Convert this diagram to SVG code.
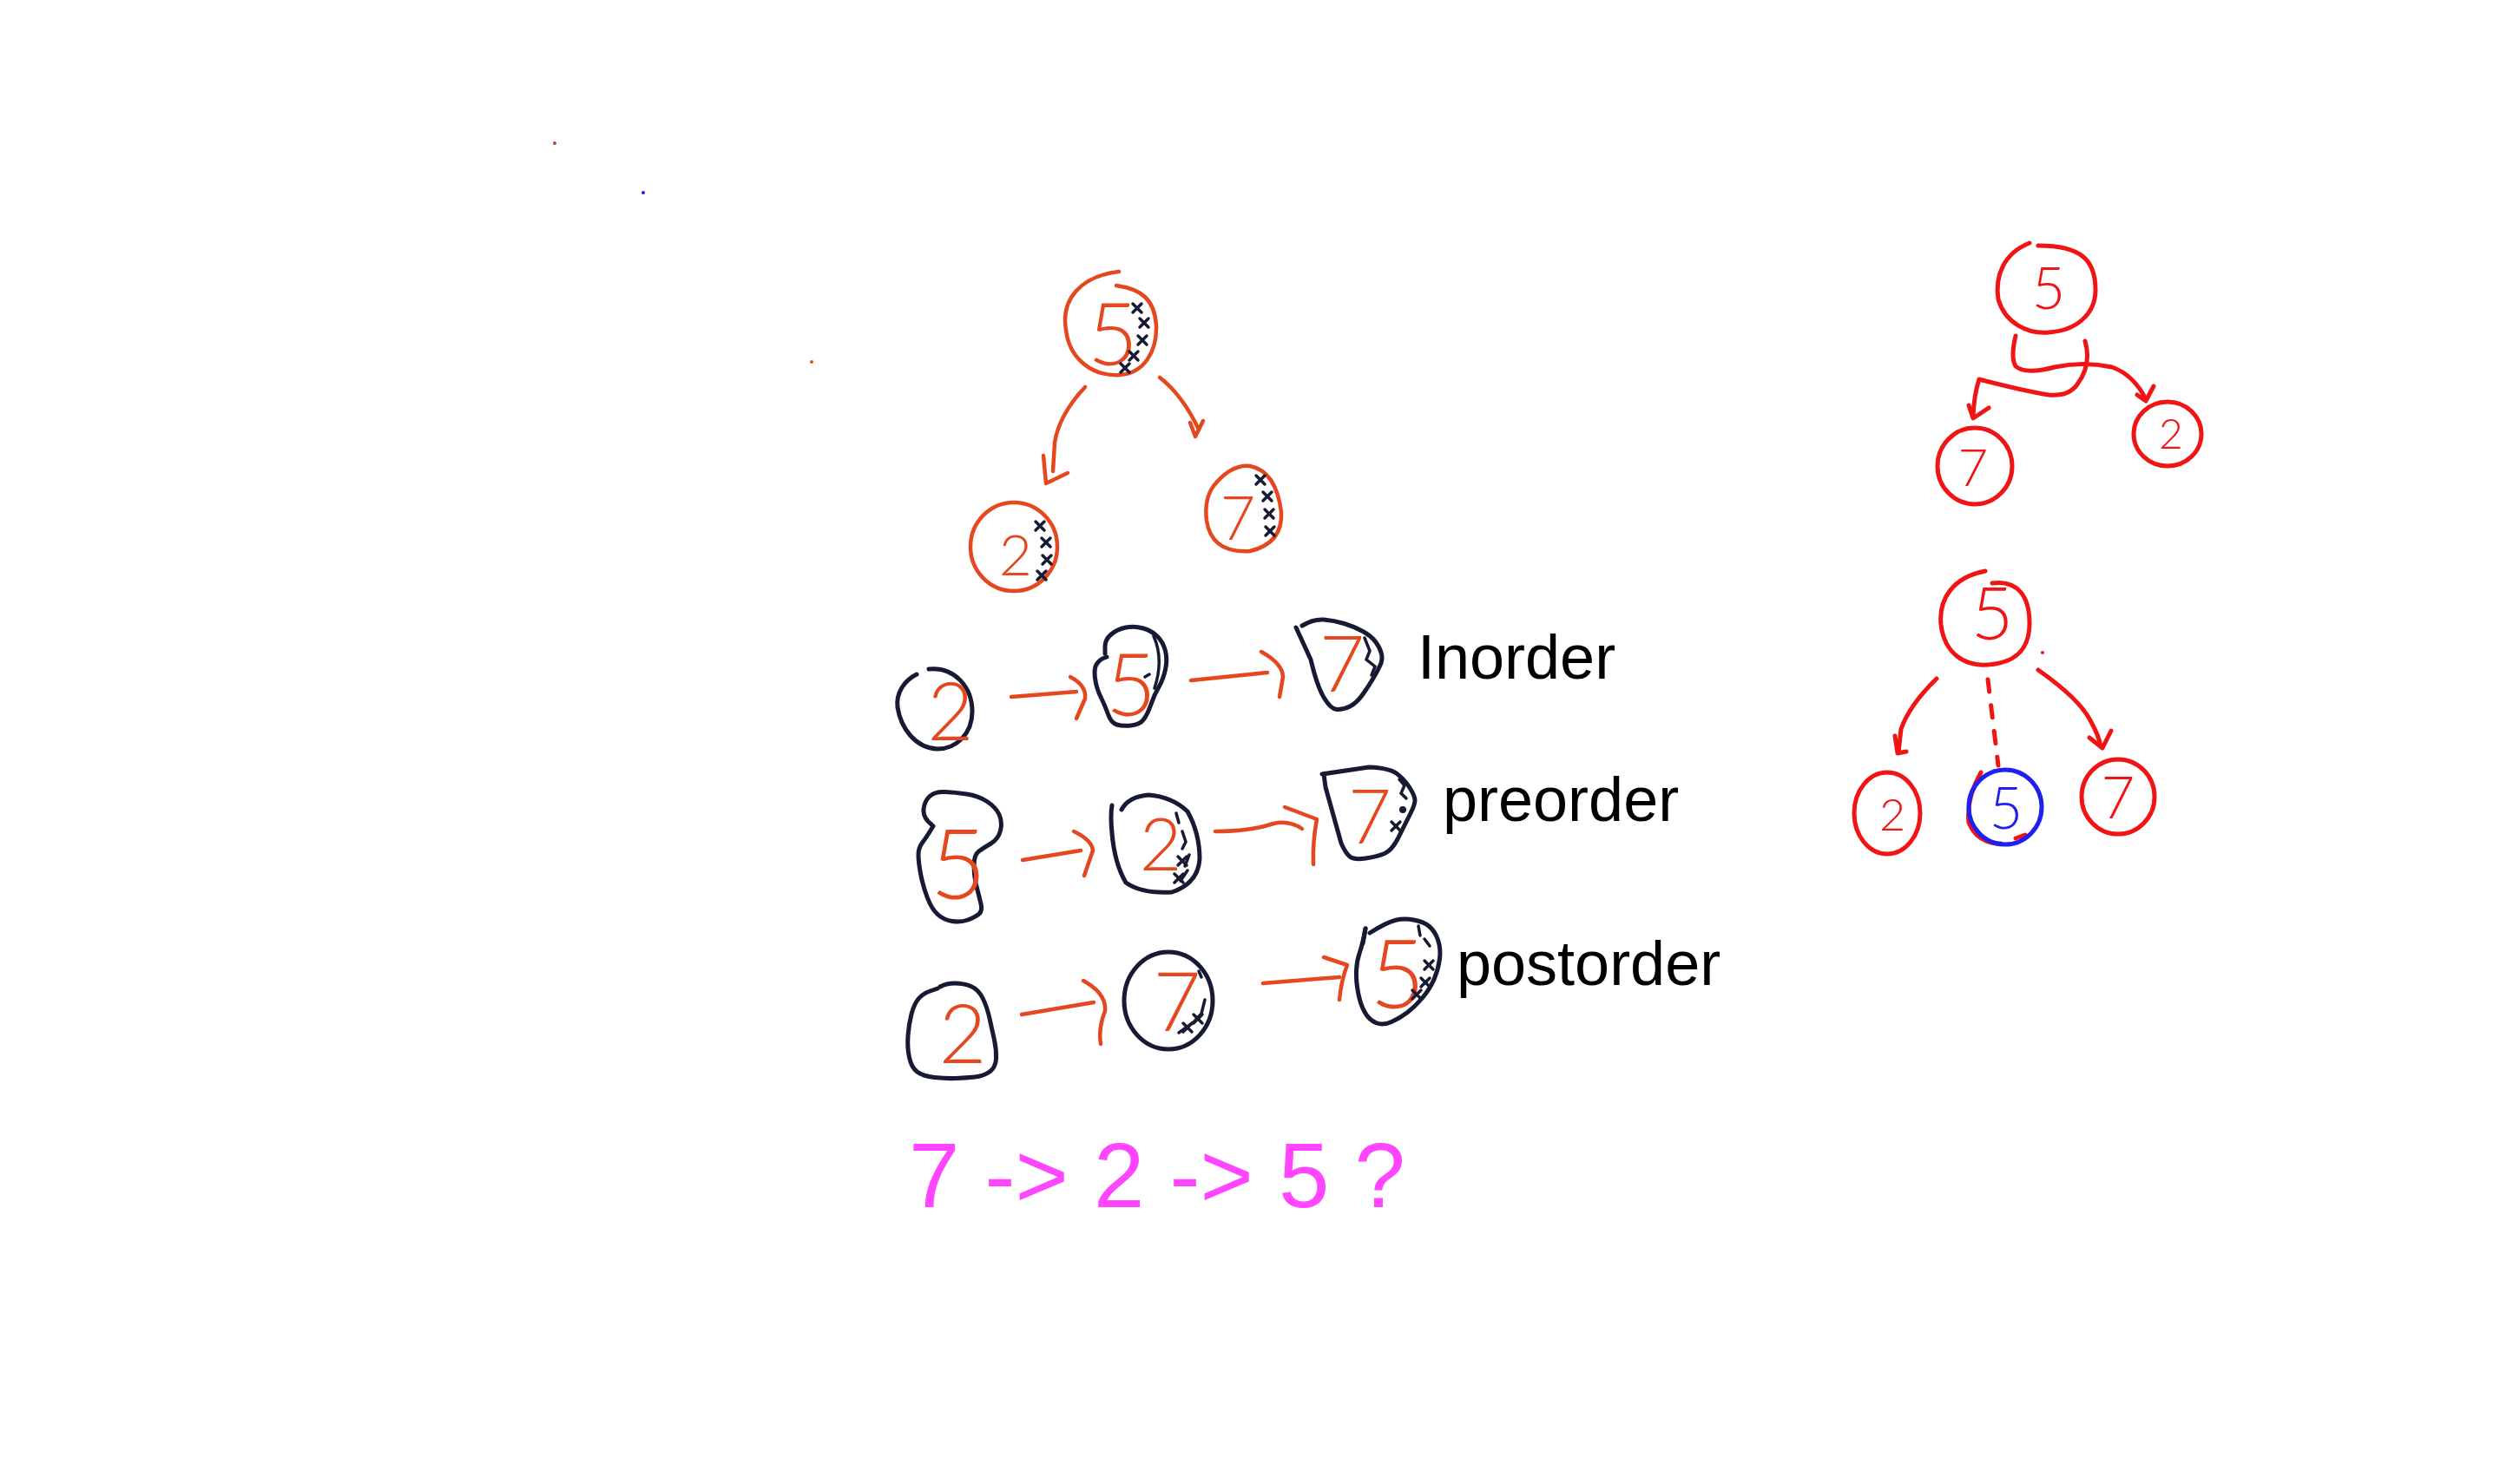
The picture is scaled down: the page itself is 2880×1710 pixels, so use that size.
<svg xmlns="http://www.w3.org/2000/svg" width="2880" height="1710" viewBox="0 0 2880 1710">
<style>
.o{fill:none;stroke:#e5471f;stroke-width:4.5;stroke-linecap:round;stroke-linejoin:round}
.k{fill:none;stroke:#171a33;stroke-width:5;stroke-linecap:round;stroke-linejoin:round}
.kh{fill:none;stroke:#171a33;stroke-width:3.5;stroke-linecap:round}
.r{fill:none;stroke:#f01414;stroke-width:5;stroke-linecap:round;stroke-linejoin:round}
.b{fill:none;stroke:#1f1ff0;stroke-width:5;stroke-linecap:round;stroke-linejoin:round}
.d{font-family:Lato,"Open Sans","Liberation Sans",sans-serif;font-weight:300;text-anchor:middle}
.do{fill:#e5471f}
.dr{fill:#f01414}
.db{fill:#1f1ff0}
.lbl{font-family:"Liberation Sans",Arial,sans-serif;fill:#000;font-size:72px}
</style>
<defs>
<path id="xm" d="M-5,-5 L5,5 M5,-5 L-5,5" class="kh"/>
</defs>
<rect width="2880" height="1710" fill="#fff"/>

<g id="stray-dots">
<circle cx="639" cy="165" r="2" fill="#d03a2a"/>
<circle cx="741" cy="222" r="2" fill="#2020e0"/>
<circle cx="935" cy="417" r="2" fill="#e5471f"/>
<circle cx="2353" cy="752" r="2" fill="#f01414"/>
</g>

<g id="connectors">
<!-- left tree -->
<path class="o" d="M1250,446 Q1220,478 1215,510 L1213,543"/>
<path class="o" d="M1202,525 L1205,557 L1230,545"/>
<path class="o" d="M1336,435 Q1362,455 1381,495"/>
<path class="o" d="M1371,487 L1377,503 L1386,485"/>
<!-- inorder -->
<path class="o" d="M1165,803 L1240,797"/>
<path class="o" d="M1233,780 Q1252,790 1250,805 L1240,828"/>
<path class="o" d="M1372,784 L1460,775"/>
<path class="o" d="M1453,751 Q1478,765 1478,780 L1474,803"/>
<!-- preorder -->
<path class="o" d="M1178,991 L1245,980"/>
<path class="o" d="M1237,958 Q1258,968 1259,980 L1249,1009"/>
<path class="o" d="M1400,958 Q1440,958 1467,949 Q1485,945 1500,955"/>
<path class="o" d="M1480,930 L1517,944 Q1512,970 1513,996"/>
<!-- postorder -->
<path class="o" d="M1177,1169 L1260,1155"/>
<path class="o" d="M1248,1130 Q1275,1145 1273,1165 Q1265,1185 1268,1203"/>
<path class="o" d="M1455,1133 L1543,1126"/>
<path class="o" d="M1525,1103 L1552,1112 Q1545,1130 1543,1152"/>
<!-- right top tree -->
<path class="r" d="M2322,387 Q2316,412 2322,422 Q2333,432 2367,423 Q2400,416 2433,423 Q2458,432 2472,460"/>
<path class="r" d="M2462,455 L2472,462 L2481,445"/>
<path class="r" d="M2402,393 Q2410,420 2393,443 Q2383,457 2360,455 Q2330,450 2280,437 Q2274,455 2273,480"/>
<path class="r" d="M2268,467 L2273,482 L2291,470"/>
<!-- right bottom tree -->
<path class="r" d="M2231,782 Q2200,812 2190,840 L2187,867"/>
<path class="r" d="M2183,848 L2186,868 L2196,866"/>
<path class="r" d="M2290,783 L2302,882" stroke-dasharray="14 16"/>
<path class="r" d="M2348,772 Q2395,805 2408,830 Q2418,848 2420,860"/>
<path class="r" d="M2407,850 L2422,862 L2432,842"/>
</g>

<!-- left tree nodes -->
<g id="lt-5">
<path class="o" d="M1289,313 C1245,318 1222,345 1228,380 C1232,415 1260,434 1290,432 C1318,430 1333,405 1332,375 C1330,345 1315,333 1286,329"/>
<text class="d do" x="1282" y="421" font-size="100">5</text>
<use href="#xm" x="1310" y="355"/><use href="#xm" x="1318" y="372"/><use href="#xm" x="1316" y="392"/><use href="#xm" x="1306" y="410"/><use href="#xm" x="1296" y="424"/>
</g>
<g id="lt-2">
<ellipse class="o" cx="1168" cy="630" rx="50" ry="51"/>
<text class="d do" x="1170" y="663" font-size="66">2</text>
<use href="#xm" x="1198" y="606"/><use href="#xm" x="1205" y="625"/><use href="#xm" x="1206" y="645"/><use href="#xm" x="1200" y="663"/>
</g>
<g id="lt-7">
<path class="o" d="M1398,560 Q1418,535 1440,537 Q1470,543 1476,590 Q1478,626 1440,635 Q1396,638 1390,600 Q1387,575 1398,560 Z"/>
<text class="d do" x="1426" y="622" font-size="70">7</text>
<use href="#xm" x="1452" y="553"/><use href="#xm" x="1460" y="572"/><use href="#xm" x="1462" y="592"/><use href="#xm" x="1463" y="612"/>
</g>

<!-- inorder row -->
<g id="in-2">
<path class="k" d="M1070,771 C1100,768 1120,792 1120,820 C1120,845 1102,863 1080,863 C1055,862 1038,840 1034,815 C1032,798 1042,784 1056,777"/>
<text class="d do" x="1095" y="853" font-size="92">2</text>
</g>
<g id="in-5">
<path class="k" d="M1273,753 L1273,745 Q1273,737 1280,731 Q1287,725 1297,723 Q1307,721 1317,724 Q1327,727 1333.5,733.5 Q1340,740 1342.5,750 Q1345,760 1342.5,771.5 Q1340,783 1335,791.5 Q1330,800 1326,811.5 Q1322,823 1317.5,829 Q1313,835 1303,836 Q1293,837 1286.5,835 Q1280,833 1276.5,823 Q1273,813 1268,803 Q1263,793 1261.5,781.5 Q1260,770 1263.5,765 Q1267,760 1271,758.5 L1275,757"/>
<text class="d do" x="1303" y="825" font-size="100">5</text>
<path class="kh" d="M1329,733 Q1341,760 1330,793 M1319,780 L1324,777"/>
</g>
<g id="in-7">
<path class="k" d="M1493,723 L1510,760 Q1517,790 1525,803.5 Q1533,817 1540,817.5 Q1547,818 1555,814 Q1563,810 1570,800 Q1577,790 1582,781.5 Q1587,773 1590,766.5 Q1593,760 1591.5,753.5 Q1590,747 1585,740 Q1580,733 1570,727.5 Q1560,722 1548.5,718.5 Q1537,715 1525,714 Q1513,713 1500,721"/>
<text class="d do" x="1546" y="797" font-size="90">7</text>
<path class="kh" d="M1572,735 L1578,750 L1574,760 L1584,768 L1580,778"/>
</g>
<text id="lbl-inorder" class="lbl" x="1633" y="782">Inorder</text>

<!-- preorder row -->
<g id="pre-5">
<path class="k" d="M1073,950 Q1063,942 1064,932.5 Q1065,923 1071,917.5 Q1077,912 1088.5,912.5 Q1100,913 1113.5,915 Q1127,917 1137,923.5 Q1147,930 1151,938.5 Q1155,947 1152.5,957 Q1150,967 1141.5,972 Q1133,977 1127.5,981 Q1122,985 1122,997.5 Q1122,1010 1125,1021.5 Q1128,1033 1130,1041.5 Q1132,1050 1127.5,1053.5 Q1123,1057 1115,1060 Q1107,1063 1097,1061.5 Q1087,1060 1080,1053.5 Q1073,1047 1068,1033.5 Q1063,1020 1060.5,1006.5 Q1058,993 1058,985 Q1058,977 1062.5,971 Q1067,965 1071,958.5 L1075,952"/>
<text class="d do" x="1104" y="1036" font-size="112">5</text>
</g>
<g id="pre-2">
<path class="k" d="M1292,933 Q1300,918 1323,916 Q1350,918 1368,935 Q1382,960 1382,990 Q1380,1018 1350,1028 Q1315,1030 1297,1017 Q1284,995 1281,960 Q1279,940 1281,928"/>
<text class="d do" x="1337" y="1003" font-size="84">2</text>
<path class="kh" d="M1355,937 L1358,948 M1362,958 L1366,970 L1362,978 M1370,985 L1365,998 M1368,1003 L1360,1015"/>
<use href="#xm" x="1362" y="992"/><use href="#xm" x="1358" y="1012"/>
</g>
<g id="pre-7">
<path class="k" d="M1523,892 L1577,884 Q1600,885 1608.5,891 Q1617,897 1623.5,907 Q1630,917 1630,922 Q1630,927 1625,937 L1610,967 Q1603,980 1595,983.5 Q1587,987 1573.5,989 Q1560,991 1555,987 Q1550,983 1545,971.5 L1527,907 L1525,892"/>
<text class="d do" x="1578" y="972" font-size="86">7</text>
<path class="kh" d="M1612,898 L1618,905 L1614,914 L1620,920"/>
<circle cx="1616" cy="933" r="4" fill="#171a33"/>
<use href="#xm" x="1608" y="952"/>
</g>
<text id="lbl-preorder" class="lbl" x="1662" y="946">preorder</text>

<!-- postorder row -->
<g id="post-2">
<path class="k" d="M1083,1137 Q1090,1133 1100,1133 Q1110,1133 1118.5,1136.5 Q1127,1140 1132,1150 Q1137,1160 1140,1173.5 Q1143,1187 1145.5,1198.5 Q1148,1210 1147.5,1220 Q1147,1230 1140,1235 Q1133,1240 1123,1241 Q1113,1242 1101.5,1242.5 Q1090,1243 1076.5,1241.5 Q1063,1240 1056.5,1235 Q1050,1230 1047.5,1218.5 Q1045,1207 1046,1193.5 Q1047,1180 1050,1168.5 Q1053,1157 1058,1151 Q1063,1145 1071.5,1142 L1080,1139"/>
<text class="d do" x="1109" y="1225" font-size="95">2</text>
</g>
<g id="post-7">
<ellipse class="k" cx="1346" cy="1153" rx="51" ry="56"/>
<text class="d do" x="1356" y="1188" font-size="95">7</text>
<path class="kh" d="M1381,1119 L1384,1126 M1388,1152 L1384,1168 L1375,1178 L1358,1190"/>
<use href="#xm" x="1368" y="1184"/><use href="#xm" x="1380" y="1174"/>
</g>
<g id="post-5">
<path class="k" d="M1578,1075 Q1597,1063 1607,1060.5 Q1617,1058 1628.5,1060 Q1640,1062 1646.5,1067.5 Q1653,1073 1656.5,1083 Q1660,1093 1658.5,1105 Q1657,1117 1652,1128.5 Q1647,1140 1638.5,1150 Q1630,1160 1621.5,1166.5 Q1613,1173 1603,1177.5 Q1593,1182 1585,1178.5 Q1577,1175 1572,1166 Q1567,1157 1564.5,1143.5 Q1562,1130 1562.5,1118.5 Q1563,1107 1566.5,1097 Q1570,1087 1573,1070"/>
<path class="k" d="M1573,1070 L1570,1087"/>
<text class="d do" x="1610" y="1162" font-size="110">5</text>
<path class="kh" d="M1634,1067 L1636,1078 M1641,1082 L1647,1090"/>
<use href="#xm" x="1646" y="1112"/><use href="#xm" x="1642" y="1132"/><use href="#xm" x="1632" y="1146"/>
</g>
<text id="lbl-postorder" class="lbl" x="1678" y="1135" font-size="74">postorder</text>

<text id="question" x="1047" y="1391" font-family="'Liberation Sans',Arial,sans-serif" font-size="105" fill="#ff45ff" xml:space="preserve">7 -&gt; 2 -&gt; 5 ?</text>

<!-- right top tree -->
<g id="rt-5">
<path class="r" d="M2338,280 C2308,292 2298,318 2302,345 C2310,372 2335,385 2360,383 C2392,381 2414,362 2414,334 C2414,300 2398,283 2348,283"/>
<text class="d dr" x="2360" y="356" font-size="67">5</text>
</g>
<g id="rt-7">
<ellipse class="r" cx="2275" cy="537" rx="43" ry="44"/>
<text class="d dr" x="2273" y="560" font-size="60">7</text>
</g>
<g id="rt-2">
<ellipse class="r" cx="2497" cy="500" rx="39" ry="37"/>
<text class="d dr" x="2501" y="517" font-size="48">2</text>
</g>

<!-- right bottom tree -->
<g id="rb-5">
<path class="r" d="M2287,658 C2250,665 2233,690 2236,720 C2240,752 2262,768 2290,766 C2318,764 2338,752 2338,718 C2338,688 2325,668 2295,672"/>
<text class="d dr" x="2295" y="737" font-size="84">5</text>
</g>
<g id="rb-2">
<ellipse class="r" cx="2174" cy="937" rx="38" ry="47"/>
<text class="d dr" x="2180" y="957" font-size="52">2</text>
</g>
<g id="rb-5b">
<path class="r" d="M2282,890 Q2265,920 2268,948 Q2278,972 2305,972"/>
<path class="r" d="M2322,966 L2333,962"/>
<ellipse class="b" cx="2310" cy="930" rx="42" ry="43"/>
<text class="d db" x="2311" y="955" font-size="67">5</text>
</g>
<g id="rb-7">
<ellipse class="r" cx="2440" cy="918" rx="42" ry="43"/>
<text class="d dr" x="2440" y="943" font-size="67">7</text>
</g>
</svg>
